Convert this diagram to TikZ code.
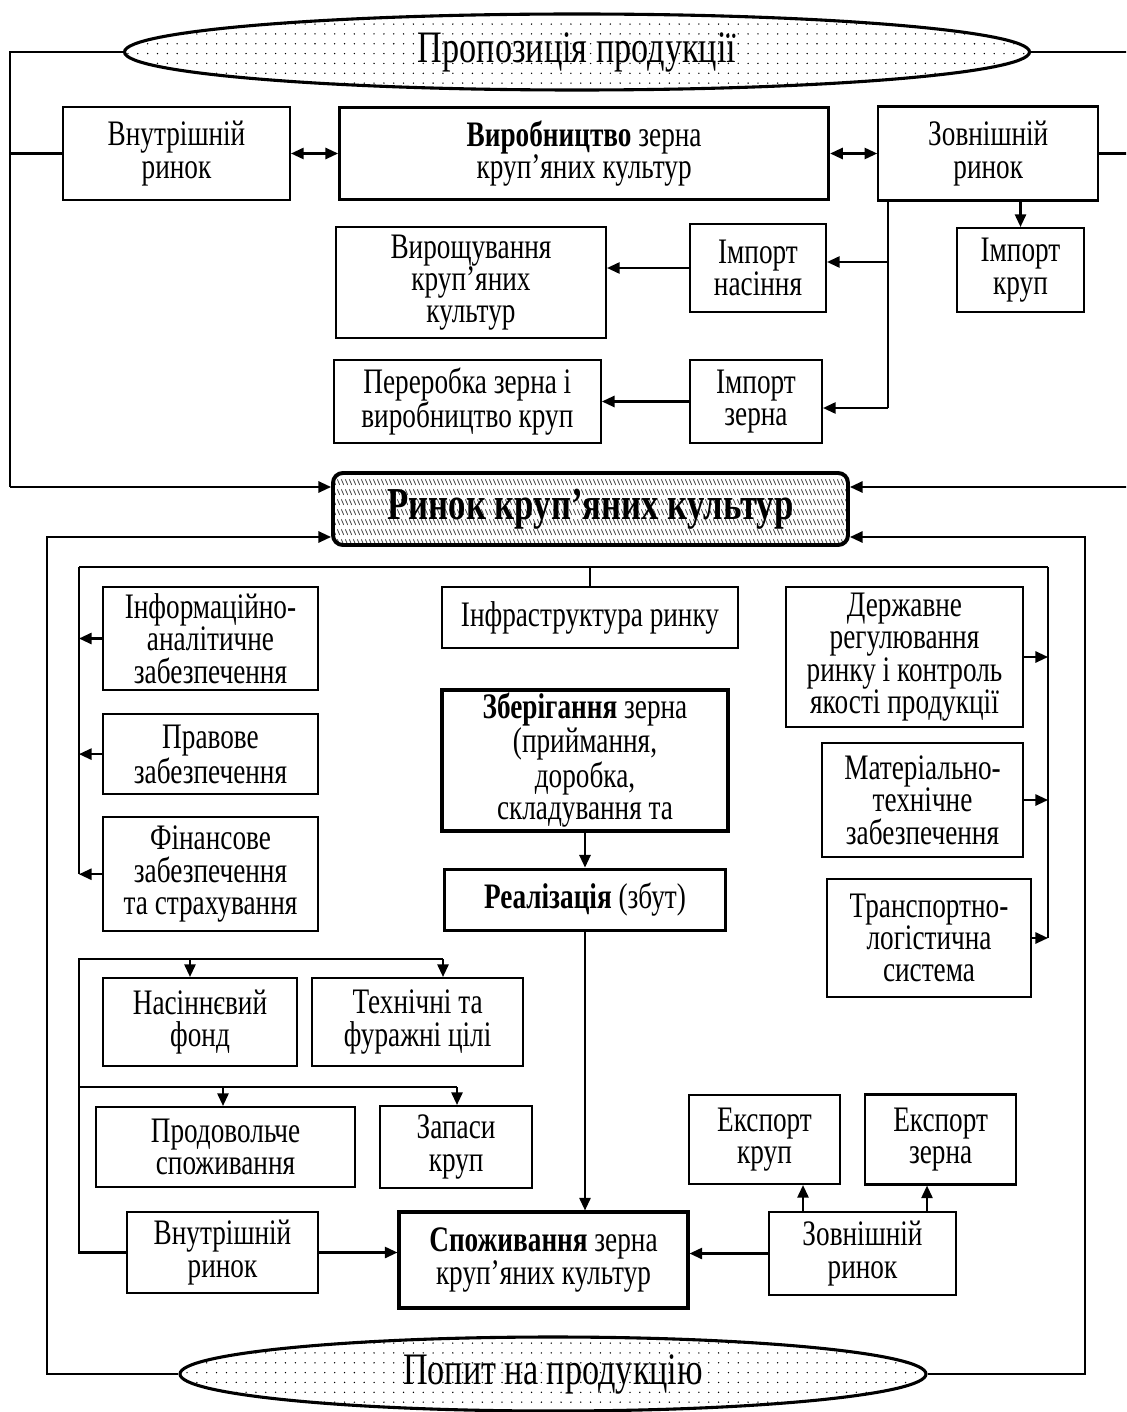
\documentclass[tikz,border=0pt]{standalone}
\usepackage{fontspec}
\setmainfont{Liberation Serif}[FakeStretch=0.76]
\usetikzlibrary{arrows.meta,positioning,shapes.geometric,patterns}
\pgfdeclarepatternformonly{sparsedots}{\pgfqpoint{-1pt}{-1pt}}{\pgfqpoint{1pt}{1pt}}{\pgfqpoint{7pt}{7pt}}%
  {\pgfpathcircle{\pgfqpoint{0pt}{0pt}}{0.55pt}\pgfusepath{fill}}
\pgfdeclarepatternformonly{rowhatch}{\pgfqpoint{0pt}{0pt}}{\pgfqpoint{3pt}{7pt}}{\pgfqpoint{3pt}{7pt}}%
  {\pgfsetlinewidth{0.6pt}\pgfpathmoveto{\pgfqpoint{0.3pt}{4.8pt}}\pgfpathlineto{\pgfqpoint{2.3pt}{0.8pt}}\pgfusepath{stroke}}
\definecolor{hatchgray}{RGB}{60,60,60}
\tikzset{
  box/.style={rectangle, draw, line width=1.5pt, align=center, inner sep=2pt,
              font=\fontsize{25.5}{23}\selectfont},
  mainbox/.style={box, line width=2.2pt},
  wh/.style 2 args={minimum width=#1*0.025cm, minimum height=#2*0.025cm},
  ovalnode/.style={ellipse, draw, line width=2.2pt, pattern=sparsedots, inner sep=0pt,
                   font=\fontsize{32}{34}\selectfont},
  link/.style={line width=1.5pt},
  arr/.style={link, -{Triangle[length=9pt,width=8pt]}},
  biarr/.style={link, {Triangle[length=9pt,width=8pt]}-{Triangle[length=9pt,width=8pt]}}
}

\begin{document}
\begin{tikzpicture}[x=0.025cm, y=-0.025cm]
    \useasboundingbox (0,0) rectangle (1126,1412);
    \clip (0,0) rectangle (1126,1412);

    \node[ovalnode, wh={905}{76}] (offer) at (577,52) {Пропозиція продукції};
    \node[box, wh={227}{93}] (vnA) at (176.5,153.5) {Внутрішній\\ринок};
    \node[mainbox, wh={489}{92}, right=1.175cm of vnA] (vyrob)
      {\textbf{Виробництво} зерна\\круп’яних культур};
    \node[box, wh={220}{94}, right=1.175cm of vyrob] (zovA) {Зовнішній\\ринок};
    \node[box, wh={136}{88}] (impNas) at (758,268) {Імпорт\\насіння};
    \node[box, wh={270}{111}] (vyrosh) at (471,282.5) {Вирощування\\круп’яних\\культур};
    \node[box, wh={127}{84}] (impKrup) at (1020.5,270) {Імпорт\\круп};
    \node[box, wh={132}{83}] (impZern) at (756,401.5) {Імпорт\\зерна};
    \node[box, wh={267}{83}, left=2.175cm of impZern] (pererob)
      {Переробка зерна і\\виробництво круп};
    \node[rectangle, rounded corners=7pt, draw, line width=2.8pt, wh={515}{72},
          pattern=rowhatch, pattern color=hatchgray,
          font=\fontsize{32.5}{34}\selectfont\bfseries] (market) at (590.5,509)
      {Ринок круп’яних культур};

    \node[box, wh={296}{61}] (infra) at (590,617.5) {Інфраструктура ринку};
    \node[box, wh={215}{103}] (info) at (210.5,638.5) {Інформаційно-\\аналітичне\\забезпечення};
    \node[box, wh={215}{80}, below=0.55cm of info] (pravo) {Правове\\забезпечення};
    \node[box, wh={215}{114}, below=0.525cm of pravo] (finans)
      {Фінансове\\забезпечення\\та страхування};
    \node[mainbox, wh={286}{141}] (zber) at (585,760.5)
      {\textbf{Зберігання} зерна\\(приймання,\\доробка,\\складування та};
    \node[mainbox, wh={281}{61}, below=0.875cm of zber] (realiz) {\textbf{Реалізація} (збут)};
    \node[box, wh={237}{140}] (derzh) at (904.5,657)
      {Державне\\регулювання\\ринку і контроль\\якості продукції};
    \node[box, wh={201}{114}] (mater) at (922.5,800) {Матеріально-\\технічне\\забезпечення};
    \node[box, wh={204}{118}] (transp) at (929,938) {Транспортно-\\логістична\\система};

    \node[box, wh={194}{88}] (nasin) at (200,1022) {Насіннєвий\\фонд};
    \node[box, wh={211}{88}, right=0.325cm of nasin] (tekhn) {Технічні та\\фуражні цілі};
    \node[box, wh={259}{80}] (prodov) at (225.5,1147) {Продовольче\\споживання};
    \node[box, wh={152}{82}, right=0.575cm of prodov] (zapasy) {Запаси\\круп};
    \node[box, wh={151}{89}] (eksKrup) at (764.5,1139.5) {Експорт\\круп};
    \node[box, wh={151}{90}, right=0.575cm of eksKrup] (eksZern) {Експорт\\зерна};
    \node[box, wh={191}{81}] (vnB) at (222.5,1252.5) {Внутрішній\\ринок};
    \node[mainbox, wh={289}{96}] (spozh) at (543.5,1260)
      {\textbf{Споживання} зерна\\круп’яних культур};
    \node[box, wh={187}{83}] (zovB) at (862.5,1253.5) {Зовнішній\\ринок};
    \node[ovalnode, wh={746}{74}] (demand) at (553,1374) {Попит на продукцію};

    \coordinate (oTL) at (10,52);
    \coordinate (oBL) at (10,487);
    \coordinate (oTR) at (1140,52);
    \coordinate (oBR) at (1140,487);
    \draw[link] (offer.west) -- (oTL) -- (oBL);
    \draw[arr] (oBL) -- (oBL -| market.west);
    \draw[link] (offer.east) -- (oTR) -- (oBR);
    \draw[arr] (oBR) -- (oBR -| market.east);
    \draw[link] (vnA.west) -- (vnA.west -| oTL);
    \draw[link] (zovA.east) -- (zovA.east -| oTR);

    \draw[biarr] (vnA.east) -- (vnA.east -| vyrob.west);
    \draw[biarr] (vyrob.east) -- (vyrob.east -| zovA.west);
    \draw[arr] (zovA.south -| impKrup) -- (impKrup.north);
    \coordinate (zj1) at (888,262);
    \coordinate (zj2) at (888,408);
    \draw[link] (zovA.south -| zj1) -- (zj2);
    \draw[arr] (zj1) -- (zj1 -| impNas.east);
    \draw[arr] (zj2) -- (zj2 -| impZern.east);
    \draw[arr] (impNas.west) -- (impNas.west -| vyrosh.east);
    \draw[arr] (impZern.west) -- (pererob.east);

    \coordinate (iBL) at (47,537);
    \coordinate (iBR) at (1085,537);
    \coordinate (iLL) at (47,1374);
    \coordinate (iLR) at (1085,1374);
    \draw[arr] (demand.west) -- (iLL) -- (iBL) -- (iBL -| market.west);
    \draw[arr] (demand.east) -- (iLR) -- (iBR) -- (iBR -| market.east);

    \coordinate (dL) at (79,567);
    \coordinate (dR) at (1048,567);
    \draw[link] (dL) -- (dR);
    \draw[link] (infra.north |- dL) -- (infra.north);
    \draw[link] (dL) -- (dL |- finans.west);
    \draw[link] (dR) -- (dR |- transp.east);
    \draw[arr] (info.west) -- (info.west -| dL);
    \draw[arr] (pravo.west) -- (pravo.west -| dL);
    \draw[arr] (finans.west) -- (finans.west -| dL);
    \draw[arr] (derzh.east) -- (derzh.east -| dR);
    \draw[arr] (mater.east) -- (mater.east -| dR);
    \draw[arr] (transp.east) -- (transp.east -| dR);
    \draw[arr] (zber.south) -- (zber.south |- realiz.north);
    \draw[arr] (realiz.south) -- (realiz.south |- spozh.north);

    \coordinate (tL1) at (79,959);
    \coordinate (tM1) at (190,959);
    \coordinate (tR1) at (443,959);
    \coordinate (tL2) at (79,1087);
    \coordinate (tM2) at (223,1087);
    \coordinate (tR2) at (457,1087);
    \draw[link] (vnB.west) -| (tL1) -- (tR1);
    \draw[link] (tL2) -- (tR2);
    \draw[arr] (tM1) -- (tM1 |- nasin.north);
    \draw[arr] (tR1) -- (tR1 |- tekhn.north);
    \draw[arr] (tM2) -- (tM2 |- prodov.north);
    \draw[arr] (tR2) -- (tR2 |- zapasy.north);
    \draw[arr] (vnB.east) -- (vnB.east -| spozh.west);
    \draw[arr] (zovB.west) -- (zovB.west -| spozh.east);
    \coordinate (eU1) at (803,1200);
    \coordinate (eU2) at (927,1200);
    \draw[arr] (eU1 |- zovB.north) -- (eU1 |- eksKrup.south);
    \draw[arr] (eU2 |- zovB.north) -- (eU2 |- eksZern.south);
  \end{tikzpicture}
\end{document}
